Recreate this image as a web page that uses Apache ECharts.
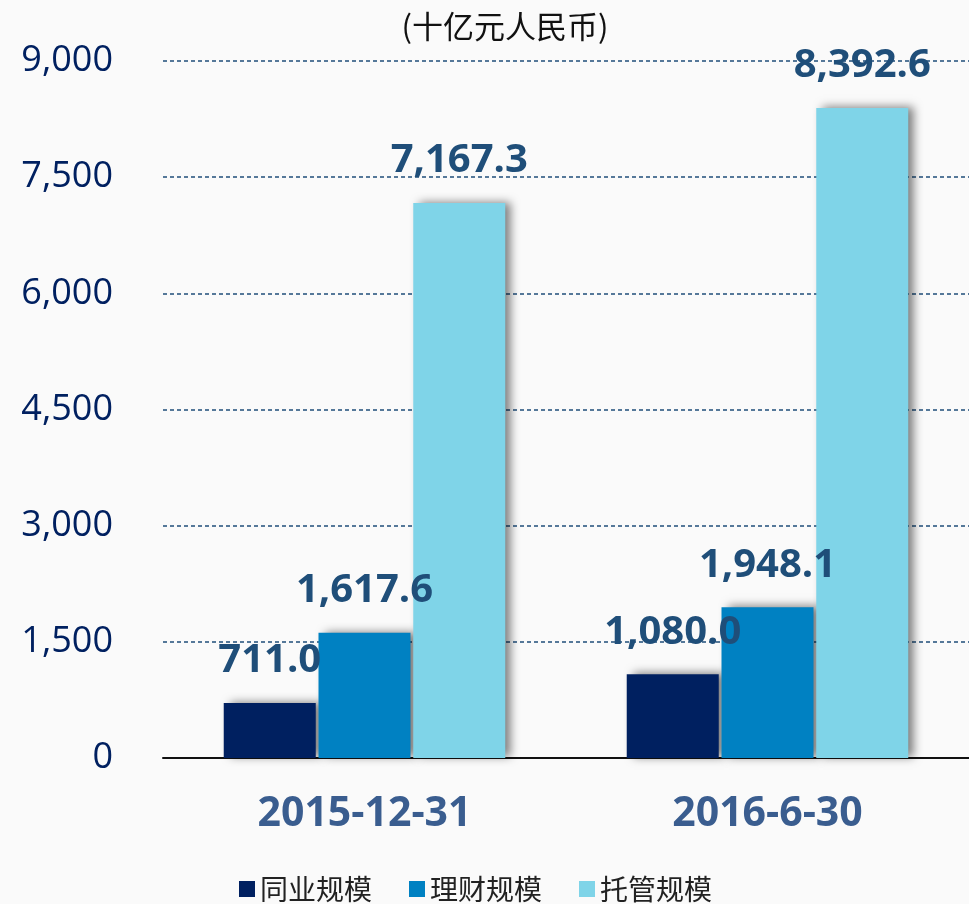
<!DOCTYPE html>
<html>
<head>
<meta charset="utf-8">
<script src="https://cdn.jsdelivr.net/npm/echarts@6/dist/echarts.min.js"></script>
<style>
  html, body { margin: 0; padding: 0; background: #fafafa; }
  #chart { width: 969px; height: 904px; }
</style>
</head>
<body>
<div id="chart"></div>
<script>
  // 日期 / 系列
  var categories = ['2015-12-31', '2016-6-30'];
  var seriesNames = ['同业规模', '理财规模', '托管规模'];
  var tongye = [711.0, 1080.0];
  var licai = [1617.6, 1948.1];
  var tuoguan = [7167.3, 8392.6];
  var colors = ['#002060', '#0081c2', '#7fd4e8'];

  function fmt(v) {
    return v.toLocaleString('en-US', {minimumFractionDigits: 1, maximumFractionDigits: 1});
  }

  function makeSeries(name, data, color) {
    return {
      name: name,
      type: 'bar',
      data: data,
      barWidth: 92,
      barGap: '3%',
      itemStyle: {
        color: color,
        shadowColor: 'rgba(0,0,0,0.5)',
        shadowBlur: 9,
        shadowOffsetX: 6,
        shadowOffsetY: -1
      },
      label: {
        show: true,
        position: 'top',
        distance: 22,
        color: '#1f4e79',
        fontSize: 40,
        fontWeight: 'bold',
        fontFamily: 'Open Sans',
        formatter: function (p) { return fmt(p.value); }
      }
    };
  }

  var myChart = echarts.init(document.getElementById('chart'));
  var option = {
    backgroundColor: '#fafafa',
    animation: false,
    color: colors,
    title: {
      text: '(十亿元人民币)',
      left: 500,
      top: 6,
      textAlign: 'center',
      textStyle: {
        color: '#111',
        fontSize: 31,
        fontWeight: 'normal',
        fontFamily: 'Noto Sans CJK SC'
      }
    },
    grid: {
      left: 163,
      right: 0,
      top: 61,
      bottom: 146
    },
    legend: {
      left: 234,
      bottom: -4,
      itemWidth: 16,
      itemHeight: 16,
      itemGap: 37,
      icon: 'rect',
      textStyle: {
        color: '#222',
        fontSize: 28,
        fontFamily: 'Noto Sans CJK SC'
      },
      data: seriesNames
    },
    xAxis: {
      type: 'category',
      data: categories,
      axisLine: { lineStyle: { color: '#111', width: 2 } },
      axisTick: { show: false },
      axisLabel: {
        margin: 36,
        color: '#3a5d8f',
        fontSize: 41,
        fontWeight: 'bold',
        fontFamily: 'Open Sans'
      }
    },
    yAxis: {
      type: 'value',
      min: 0,
      max: 9000,
      interval: 1500,
      axisLine: { show: false },
      axisTick: { show: false },
      splitLine: {
        lineStyle: { type: [4, 3], color: '#1f4e79', width: 1.5 }
      },
      axisLabel: {
        margin: 50,
        color: '#002060',
        fontSize: 36,
        fontFamily: 'Open Sans',
        formatter: function (v) { return v.toLocaleString('en-US'); }
      }
    },
    series: [
      makeSeries(seriesNames[0], tongye, colors[0]),
      makeSeries(seriesNames[1], licai, colors[1]),
      makeSeries(seriesNames[2], tuoguan, colors[2])
    ]
  };
  myChart.setOption(option);
</script>
</body>
</html>
